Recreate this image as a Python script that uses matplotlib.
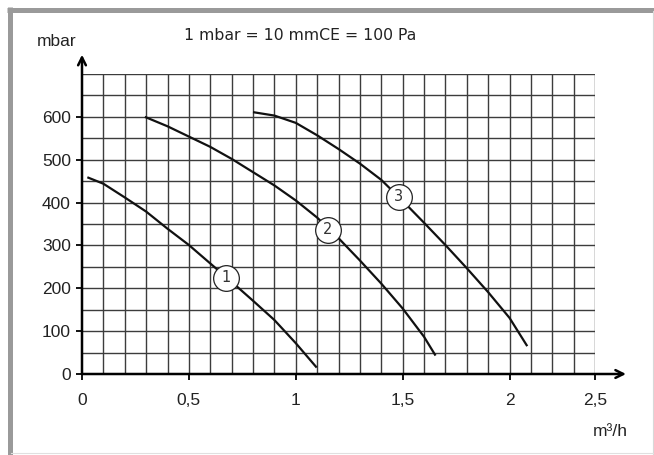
import matplotlib
matplotlib.use("Agg")
import matplotlib.pyplot as plt
from matplotlib.lines import Line2D
import numpy as np

# ---- data ----
curve1_x = [0.025, 0.1, 0.2, 0.3, 0.4, 0.5, 0.6, 0.7, 0.8, 0.9, 1.0, 1.098]
curve1_y = [459, 444, 412, 379, 339, 301, 258, 215, 171, 126, 72, 15]

curve2_x = [0.294, 0.4, 0.5, 0.6, 0.7, 0.8, 0.9, 1.0, 1.1, 1.2, 1.3, 1.4, 1.5, 1.6, 1.654]
curve2_y = [600, 578, 554, 530, 502, 471, 440, 405, 365, 317, 265, 211, 153, 87, 43]

curve3_x = [0.80, 0.9, 1.0, 1.1, 1.2, 1.3, 1.4, 1.5, 1.6, 1.7, 1.8, 1.9, 2.0, 2.083]
curve3_y = [611, 603, 586, 557, 525, 491, 453, 404, 353, 301, 247, 191, 131, 65]

curve_labels = ["1", "2", "3"]
label_x = [0.676, 1.151, 1.483]
label_y = [225, 336, 414]

x_tick_values = [0, 0.5, 1, 1.5, 2, 2.4]
x_tick_labels = ["0", "0,5", "1", "1,5", "2", "2,5"]
y_tick_values = [0, 100, 200, 300, 400, 500, 600]
y_tick_labels = ["0", "100", "200", "300", "400", "500", "600"]

plt.rcParams['font.family'] = ['Liberation Sans', 'DejaVu Sans']

W, H = 654, 455
fig = plt.figure(figsize=(W / 100, H / 100), dpi=100)

# axes in pixel layout
left, right, top, bottom = 82, 595, 74, 374
ax = fig.add_axes([left / W, (H - bottom) / H, (right - left) / W, (bottom - top) / H])
ax.set_xlim(0, 2.4)
ax.set_ylim(0, 700)

# grid
grid_color = "#3c3c3c"
for gx in np.arange(0.1, 2.41, 0.1):
    ax.axvline(gx, color=grid_color, lw=1.0, zorder=1)
for gy in np.arange(50, 701, 50):
    ax.axhline(gy, color=grid_color, lw=1.0, zorder=1)

for s in ax.spines.values():
    s.set_visible(False)

# axes arrows
arrow_kw = dict(arrowstyle="->", color="black", lw=1.8, mutation_scale=14, shrinkA=0, shrinkB=0)
ax.annotate("", xy=(2.545, 0), xytext=(0, 0), arrowprops=arrow_kw, annotation_clip=False, zorder=5)
ax.annotate("", xy=(0, 745), xytext=(0, 0), arrowprops=arrow_kw, annotation_clip=False, zorder=5)

ax.set_xticks(x_tick_values)
ax.set_xticklabels(x_tick_labels)
ax.set_yticks(y_tick_values)
ax.set_yticklabels(y_tick_labels)
ax.tick_params(axis="x", direction="out", length=4, width=1.3, pad=10, labelsize=12.5, colors="black")
ax.tick_params(axis="y", direction="out", length=4, width=1.3, pad=4, labelsize=12.5, colors="black")
for lbl in ax.get_xticklabels() + ax.get_yticklabels():
    lbl.set_color("#222222")

# curves
for cx, cy in [(curve1_x, curve1_y), (curve2_x, curve2_y), (curve3_x, curve3_y)]:
    ax.plot(cx, cy, color="#111111", lw=1.6, zorder=3, solid_capstyle="butt",
            solid_joinstyle="round")

# circle labels
for t, lx, ly in zip(curve_labels, label_x, label_y):
    ax.plot([lx], [ly], marker="o", markersize=18.5, markerfacecolor="white",
            markeredgecolor="#222222", markeredgewidth=0.9, zorder=4, linestyle="none")
    ax.text(lx, ly, t, ha="center", va="center", fontsize=10.5, color="#333333",
            zorder=6, family=["DejaVu Sans"])

# texts
fig.text(37 / W, 1 - 42 / H, "mbar", ha="left", va="center", fontsize=12.5, color="#222222")
fig.text(184 / W, 1 - 36 / H, "1 mbar = 10 mmCE = 100 Pa", ha="left", va="center",
         fontsize=11.3, color="#222222", family=["DejaVu Sans"])
fig.text(593 / W, 1 - 431 / H, "m³/h", ha="left", va="center", fontsize=12.5, color="#222222")

# frame
fig.add_artist(Line2D([7 / W, 1], [1 - 9.5 / H, 1 - 9.5 / H], transform=fig.transFigure,
                      color="#9a9a9a", lw=3.6, solid_capstyle="butt"))
fig.add_artist(Line2D([9.5 / W, 9.5 / W], [1 - 7 / H, 0], transform=fig.transFigure,
                      color="#9a9a9a", lw=3.6, solid_capstyle="butt"))
fig.add_artist(Line2D([652.5 / W, 652.5 / W], [1 - 11 / H, 0], transform=fig.transFigure,
                      color="#d8d8d8", lw=0.8))
fig.add_artist(Line2D([11 / W, 1], [1 - 452.5 / H, 1 - 452.5 / H], transform=fig.transFigure,
                      color="#e0e0e0", lw=0.8))

fig.savefig("out.png", dpi=100)
